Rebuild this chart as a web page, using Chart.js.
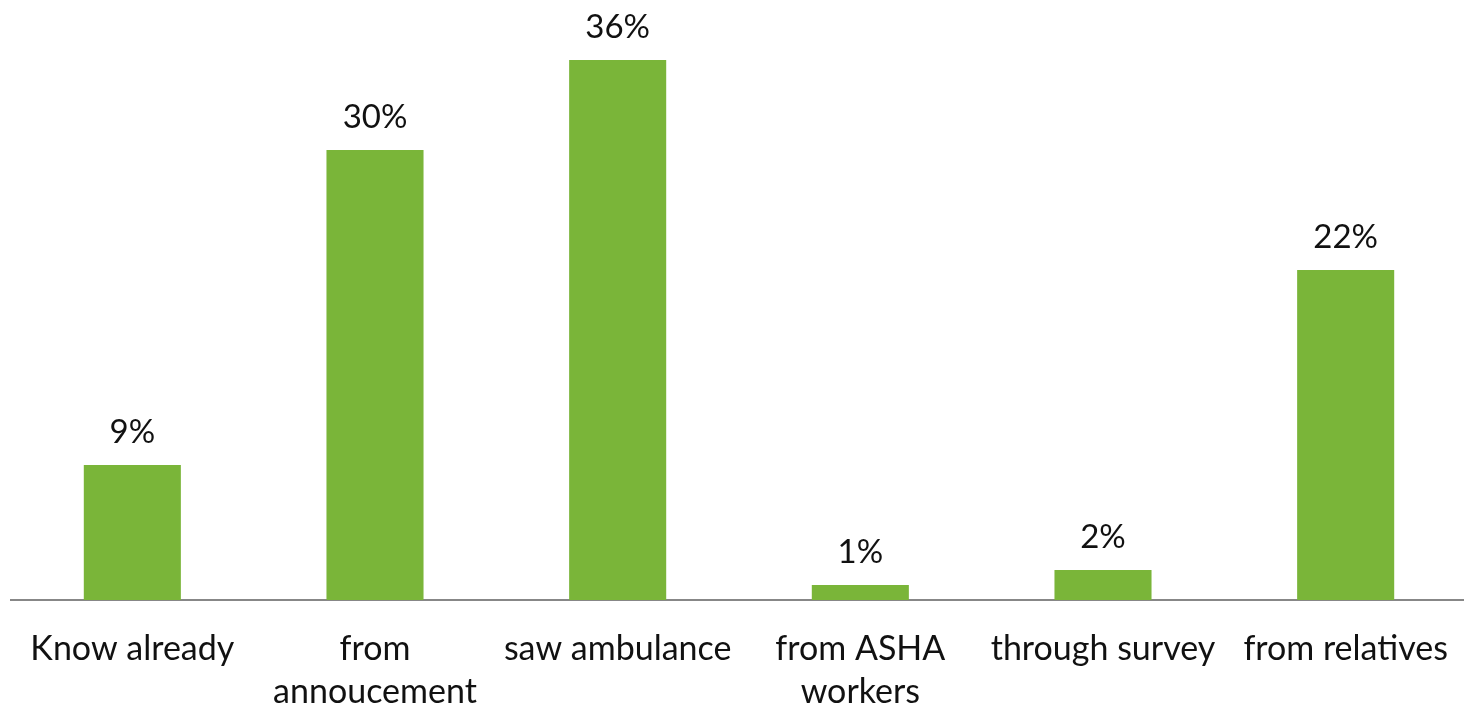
<!DOCTYPE html>
<html>
<head>
<meta charset="utf-8">
<script src="https://cdn.jsdelivr.net/npm/chart.js@4"></script>
<style>
  html, body { margin: 0; padding: 0; background: #fff; overflow: hidden; }
  #wrap { width: 1467px; height: 711px; }
</style>
</head>
<body>
<div id="wrap"><canvas id="barChart"></canvas></div>
<script>
var categories = ['Know already', ['from', 'annoucement'], 'saw ambulance', ['from ASHA', 'workers'], 'through survey', 'from relatives'];
var percentValues = [9, 30, 36, 1, 2, 22];
var yMax = 40;

// draws the "9%" etc. above each bar
var valueLabels = {
    id: 'valueLabels',
    afterDatasetsDraw: function(chart) {
        var ctx = chart.ctx;
        var meta = chart.getDatasetMeta(0);
        ctx.save();
        ctx.font = '33px Lato';
        ctx.fillStyle = '#111';
        ctx.textAlign = 'center';
        ctx.textBaseline = 'alphabetic';
        meta.data.forEach(function(bar, i) {
            ctx.fillText(percentValues[i] + '%', bar.x, bar.y - 22);
        });
        ctx.restore();
    }
};

var ctx1 = document.getElementById('barChart').getContext('2d');
var myBarChart = new Chart(ctx1, {
    type: 'bar',
    data: {
        labels: categories,
        datasets: [{
            data: percentValues,
            backgroundColor: '#7AB539',
            borderWidth: 0,
            barPercentage: 0.4,
            categoryPercentage: 1
        }]
    },
    options: {
        responsive: true,
        maintainAspectRatio: false,
        animation: false,
        layout: { padding: { left: 11, right: 0, top: 0, bottom: 0 } },
        plugins: {
            legend: { display: false },
            tooltip: { enabled: false }
        },
        scales: {
            x: {
                grid: { display: false, drawTicks: false },
                border: { display: true, color: '#878787', width: 2 },
                ticks: {
                    color: '#111',
                    font: { family: 'Lato', size: 34, lineHeight: 1.26 },
                    padding: 28,
                    maxRotation: 0,
                    autoSkip: false
                },
                afterFit: function(scale) {
                    // keep axis where the original has it
                    scale.height = 111;
                    scale.paddingLeft = 0;
                    scale.paddingRight = 0;
                }
            },
            y: {
                display: false,
                min: 0,
                max: yMax
            }
        }
    },
    plugins: [valueLabels]
});
</script>
</body>
</html>
